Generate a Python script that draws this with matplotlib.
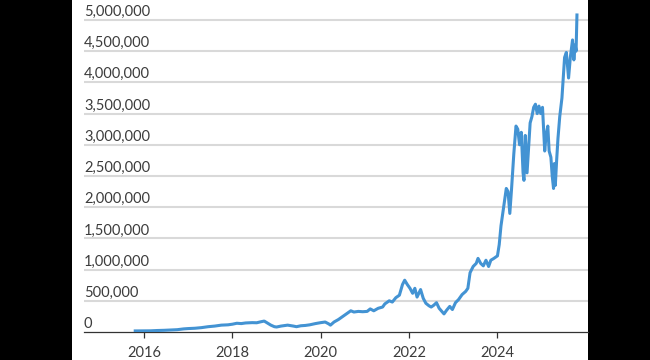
import matplotlib
matplotlib.use("Agg")
import matplotlib.pyplot as plt
from matplotlib.patches import Rectangle

# decimal year, value
years = [
    2015.80, 2015.90, 2016.00, 2016.15, 2016.30, 2016.45, 2016.60, 2016.75, 2016.90,
    2017.00, 2017.15, 2017.30, 2017.45, 2017.60, 2017.75, 2017.90,
    2018.00, 2018.10, 2018.20, 2018.30, 2018.45, 2018.55, 2018.65, 2018.72, 2018.80,
    2018.87, 2018.95, 2019.00, 2019.10, 2019.25, 2019.38, 2019.45, 2019.55, 2019.65,
    2019.75, 2019.88, 2020.00, 2020.10, 2020.18, 2020.22, 2020.30, 2020.40, 2020.50,
    2020.60, 2020.68, 2020.75, 2020.85, 2020.95, 2021.05, 2021.12, 2021.20, 2021.30,
    2021.40, 2021.45, 2021.55, 2021.62, 2021.70, 2021.78, 2021.85, 2021.90, 2021.96,
    2022.02, 2022.08, 2022.13, 2022.18, 2022.22, 2022.26, 2022.32, 2022.38, 2022.45,
    2022.50, 2022.56, 2022.62, 2022.68, 2022.74, 2022.79, 2022.85, 2022.92, 2022.98,
    2023.05, 2023.12, 2023.20, 2023.28, 2023.33, 2023.38, 2023.45, 2023.52, 2023.56,
    2023.62, 2023.68, 2023.74, 2023.80, 2023.85, 2023.92, 2024.00, 2024.04, 2024.08,
    2024.12, 2024.16, 2024.20, 2024.24, 2024.28, 2024.32, 2024.37, 2024.42, 2024.46,
    2024.50, 2024.54, 2024.58, 2024.60, 2024.63, 2024.67, 2024.70, 2024.74, 2024.78,
    2024.82, 2024.86, 2024.90, 2024.94, 2024.98, 2025.02, 2025.07, 2025.10, 2025.14,
    2025.17, 2025.21, 2025.24, 2025.27, 2025.29, 2025.31, 2025.34, 2025.37, 2025.41,
    2025.46, 2025.52, 2025.56, 2025.61, 2025.65, 2025.70, 2025.73, 2025.76, 2025.78,
    2025.80,
]
values = [
    17000, 18000, 18000, 19000, 24000, 27000, 32000, 37000, 50000,
    55000, 60000, 70000, 85000, 95000, 110000, 115000,
    125000, 140000, 135000, 145000, 150000, 148000, 165000, 175000, 140000,
    110000, 85000, 80000, 95000, 110000, 95000, 85000, 100000, 105000,
    115000, 135000, 150000, 160000, 130000, 110000, 160000, 200000, 250000,
    300000, 340000, 320000, 330000, 325000, 330000, 370000, 340000, 380000,
    400000, 450000, 500000, 480000, 550000, 590000, 760000, 830000, 760000,
    700000, 620000, 700000, 560000, 620000, 680000, 540000, 460000, 420000,
    400000, 430000, 470000, 380000, 330000, 290000, 350000, 410000, 360000,
    470000, 520000, 600000, 650000, 700000, 950000, 1050000, 1100000, 1180000,
    1100000, 1060000, 1150000, 1050000, 1150000, 1180000, 1220000, 1400000, 1700000,
    1900000, 2100000, 2300000, 2250000, 1900000, 2300000, 2850000, 3300000, 3250000,
    3000000, 3200000, 2550000, 2430000, 3150000, 2550000, 2900000, 3350000, 3450000,
    3600000, 3650000, 3500000, 3620000, 3500000, 3600000, 2900000, 3150000, 3300000,
    2900000, 2800000, 2500000, 2300000, 2700000, 2350000, 2750000, 3100000, 3450000,
    3750000, 4400000, 4480000, 4070000, 4400000, 4680000, 4360000, 4600000, 4500000,
    5080000,
]

x_ticks = [2016, 2018, 2020, 2022, 2024]
y_ticks = [0, 500000, 1000000, 1500000, 2000000, 2500000, 3000000, 3500000, 4000000, 4500000, 5000000]

W, H = 650, 360
fig = plt.figure(figsize=(W / 100, H / 100), dpi=100, facecolor="black")
fig.patches.append(Rectangle((72 / W, 0), (588 - 72) / W, 1, transform=fig.transFigure,
                             facecolor="white", edgecolor="none", zorder=-10))

ax = fig.add_axes([84 / W, 28 / H, 504 / W, 332 / H])
ax.set_facecolor("none")

font = "Lato"
txt_color = "#3c3c3c"

for v in y_ticks[1:]:
    ax.axhline(v, color="#d9d9d9", lw=1.5, zorder=1)
for v in y_ticks:
    ax.annotate(f"{v:,}", xy=(0, v), xycoords=("axes fraction", "data"),
                xytext=(0, 4), textcoords="offset pixels", ha="left", va="baseline",
                fontsize=10.5, family=font, color=txt_color)

ax.plot(years, values, color="#4393d3", lw=2.2, solid_joinstyle="round", zorder=3)

ax.set_xlim(2014.64, 2026.05)
ax.set_ylim(0, 5.32e6)

for s in ["top", "right", "left"]:
    ax.spines[s].set_visible(False)
ax.spines["bottom"].set_color("#333333")
ax.spines["bottom"].set_linewidth(0.9)

ax.set_yticks([])
ax.set_xticks(x_ticks)
ax.set_xticklabels([str(y) for y in x_ticks], family=font, fontsize=10.5, color=txt_color)
ax.tick_params(axis="x", length=4, width=0.9, color="#333333", pad=6)

fig.savefig("out.png", dpi=100, facecolor=fig.get_facecolor())
